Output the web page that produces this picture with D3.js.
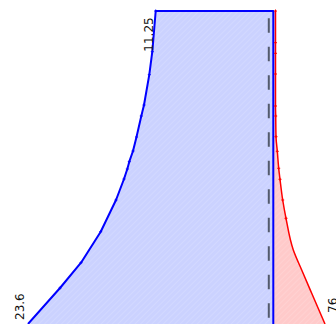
<html>
  <head>
    <script src="https://cdn.jsdelivr.net/npm/d3@7"></script>
    <style>
      body { margin: 0; background: white; }
    </style>
  </head>
  <body>
    <div id="chart"></div>
    <script>
      // Blue envelope: level (y) and value (x) along the curved edge
      const blueLevels = [0, 3.6, 6.13, 9.23, 12.4, 14.5, 15.5, 16.23, 17.3, 18.7, 20.8, 21.9, 24.93, 27.23, 31.3];
      const blueValues = [2.8, 6.0, 8.1, 10.07, 11.6, 12.4, 12.73, 12.93, 13.3, 13.65, 14.13, 14.4, 14.93, 15.23, 15.57];
      const blueEdge = 27.33;   // straight right side of the blue area
      const topLevel = 31.3;

      // Red curve on the right
      const redLevels = [31.3, 28.13, 27.07, 25.0, 21.8, 20.8, 18.73, 17.27, 15.57, 14.47, 12.4, 10.57, 7.4, 5.4, 3.07, 0];
      const redValues = [27.55, 27.55, 27.55, 27.55, 27.55, 27.57, 27.6, 27.73, 27.87, 28.0, 28.27, 28.6, 29.33, 30.17, 31.17, 32.5];

      const dashedValue = 26.88;

      const labelTexts = ["23.6", "11.25", "76"];

      const width = 336, height = 324;

      const x = d3.scaleLinear().domain([0, 33.6]).range([0, width]);
      const y = d3.scaleLinear().domain([0, 32.4]).range([height, 0]);

      const svg = d3.select("#chart")
        .append("svg")
        .attr("width", width)
        .attr("height", height)
        .style("display", "block");

      // hatched fills
      const defs = svg.append("defs");
      function hatch(id, base, line) {
        const p = defs.append("pattern")
          .attr("id", id)
          .attr("patternUnits", "userSpaceOnUse")
          .attr("width", 4).attr("height", 4)
          .attr("patternTransform", "rotate(-45)");
        p.append("rect").attr("width", 4).attr("height", 4).attr("fill", base);
        p.append("line").attr("x1", 0).attr("y1", 0).attr("x2", 4).attr("y2", 0)
          .attr("stroke", line).attr("stroke-width", 1.5);
      }
      hatch("blueHatch", "#cbd2ff", "#d5dbff");
      hatch("redHatch", "#ffcaca", "#ffd4d4");

      const blue = blueLevels.map((l, i) => [blueValues[i], l]);
      const red = redLevels.map((l, i) => [redValues[i], l]);

      // blue area: curve, top edge, right side, bottom
      const bluePoly = blue.concat([[blueEdge, topLevel], [blueEdge, 0]]);
      svg.append("path")
        .datum(bluePoly)
        .attr("fill", "url(#blueHatch)")
        .attr("d", d3.line().x(d => x(d[0])).y(d => y(d[1])));

      // red area between the straight edge and the red curve
      svg.append("path")
        .datum(red)
        .attr("fill", "url(#redHatch)")
        .attr("d", d3.area()
          .curve(d3.curveMonotoneY)
          .y(d => y(d[1]))
          .x0(x(blueEdge))
          .x1(d => x(d[0])));

      // dashed reference line
      svg.append("line")
        .attr("x1", x(dashedValue)).attr("x2", x(dashedValue))
        .attr("y1", y(topLevel)).attr("y2", y(0))
        .attr("stroke", "#535a6c")
        .attr("stroke-width", 2)
        .attr("stroke-dasharray", "14.5,14")
        .attr("stroke-dashoffset", 21.2);

      // red line
      svg.append("path")
        .datum(red)
        .attr("fill", "none")
        .attr("stroke", "#ff0000")
        .attr("stroke-width", 1.5)
        .attr("d", d3.line().curve(d3.curveMonotoneY).x(d => x(d[0])).y(d => y(d[1])));

      // blue outline
      svg.append("path")
        .datum(bluePoly)
        .attr("fill", "none")
        .attr("stroke", "#0000ff")
        .attr("stroke-width", 2)
        .attr("stroke-linejoin", "round")
        .attr("d", d3.line().x(d => x(d[0])).y(d => y(d[1])));

      // small point markers
      function markers(pts, color) {
        svg.append("g").selectAll("path")
          .data(pts)
          .join("path")
          .attr("d", d => `M${x(d[0]) - 1.5},${y(d[1])}h3M${x(d[0])},${y(d[1]) - 1.5}v3`)
          .attr("stroke", color)
          .attr("stroke-width", 1);
      }
      markers(blue.slice(1), "#0000ff");
      markers(red.slice(0, 12), "#ff0000");

      // value labels next to end points
      const labelAt = [
        {text: labelTexts[0], pt: blue[0], dx: -4, dy: -4},
        {text: labelTexts[1], pt: blue[13], dx: 1, dy: 0},
        {text: labelTexts[2], pt: red[red.length - 1], dx: 12, dy: -11}
      ];
      svg.append("g").selectAll("text")
        .data(labelAt)
        .join("text")
        .attr("transform", d => `translate(${x(d.pt[0]) + d.dx},${y(d.pt[1]) + d.dy}) rotate(-90)`)
        .attr("font-family", "DejaVu Sans")
        .attr("font-size", 12)
        .attr("fill", "#111")
        .text(d => d.text);
    </script>
  </body>
</html>
